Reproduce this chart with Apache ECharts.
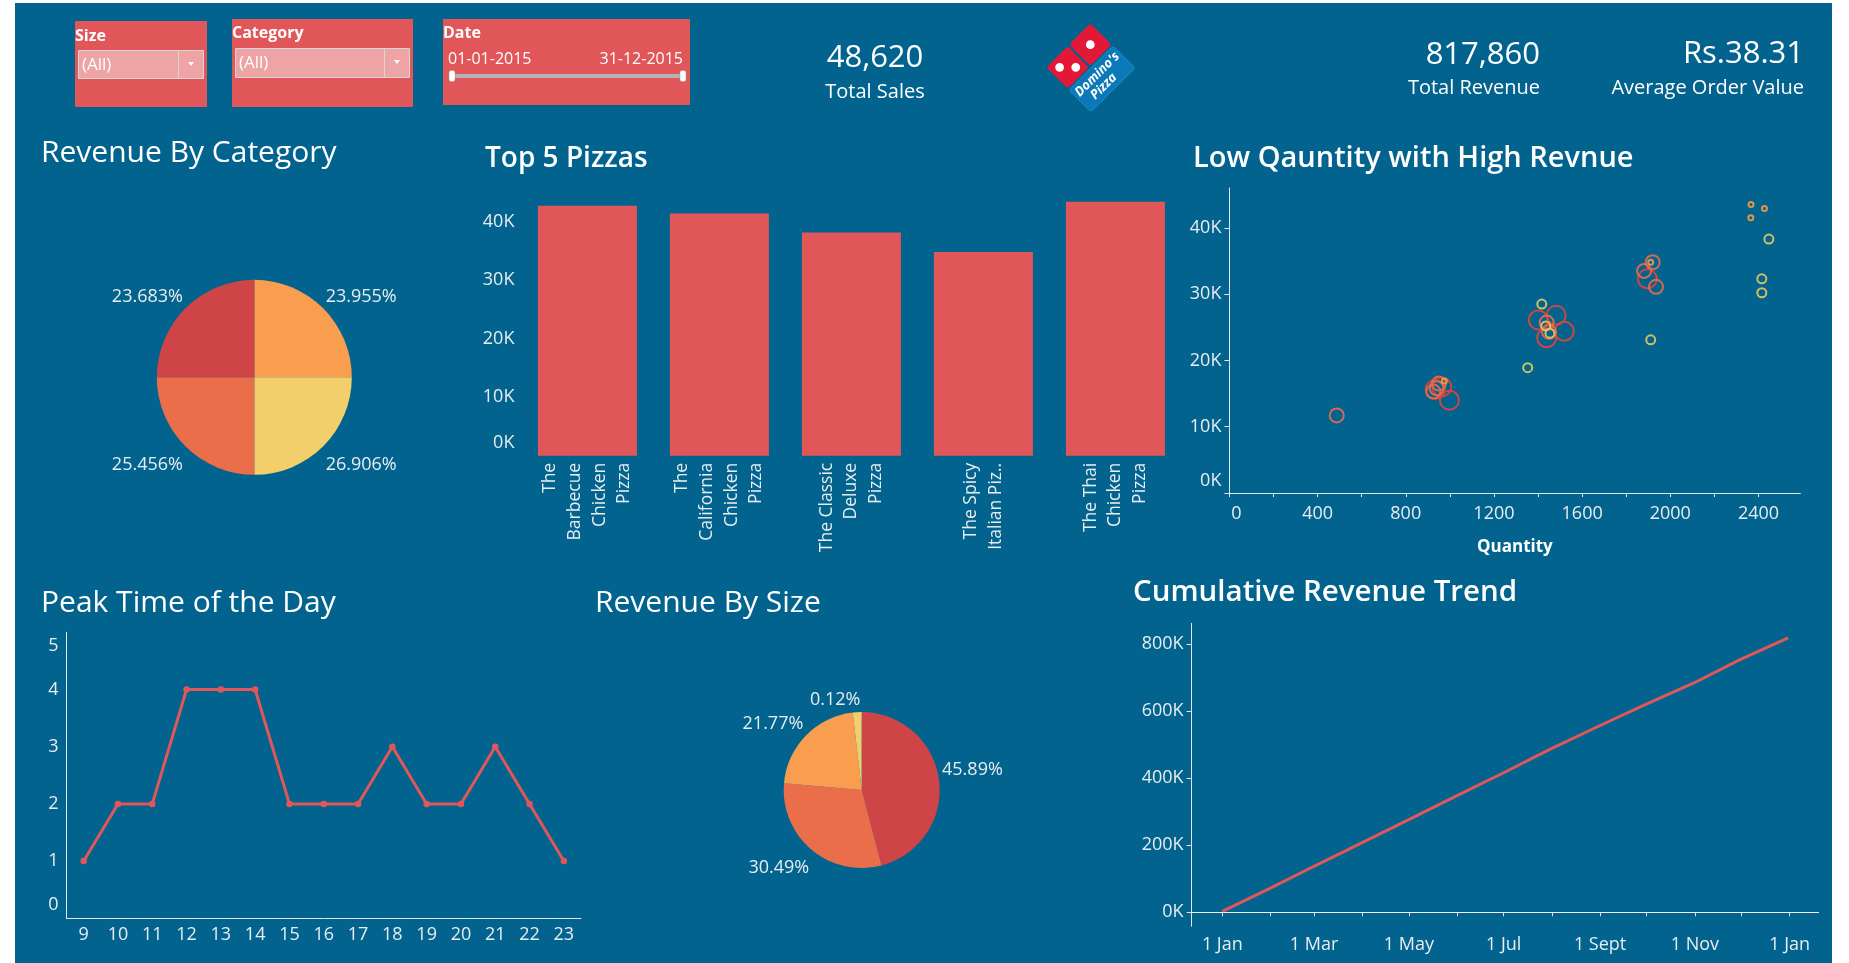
<!DOCTYPE html>
<html>
<head>
<meta charset="utf-8">
<script src="https://cdn.jsdelivr.net/npm/echarts@6/dist/echarts.min.js"></script>
<style>
html,body{margin:0;padding:0;background:#ffffff;}
#c{width:1849px;height:963px;}
</style>
</head>
<body>
<div id="c"></div>
<script>
// ---------------- DATA ----------------
const kpiTotalSales = '48,620';
const kpiTotalRevenue = '817,860';
const kpiAvgOrder = 'Rs.38.31';

const categoryNames = ['Chicken', 'Classic', 'Supreme', 'Veggie'];
const categoryShare = [23.955, 26.906, 25.456, 23.683];      // label values (%)
const categorySliceShare = [25, 25, 25, 25];                  // slice angles as drawn (equal quarters)

const pizzaNames = ['The Barbecue Chicken Pizza', 'The California Chicken Pizza', 'The Classic Deluxe Pizza', 'The Spicy Italian Pizza', 'The Thai Chicken Pizza'];
const pizzaTickLabels = ['The\nBarbecue\nChicken\nPizza', 'The\nCalifornia\nChicken\nPizza', 'The Classic\nDeluxe\nPizza', 'The Spicy\nItalian Piz..', 'The Thai\nChicken\nPizza'];
const pizzaRevenue = [42768, 41410, 38180, 34831, 43434];

const scatterQty     = [933, 998, 963, 940, 925, 950, 975, 487, 1353, 1417, 1401, 1482, 1439, 1435, 1519, 1439, 1450, 1454, 1920, 1911, 1881, 1896, 1935, 1911, 2366, 2427, 2365, 2447, 2415, 2415];
const scatterRevenue = [15600, 14000, 16000, 15800, 15300, 16500, 16900, 11700, 18900, 28500, 26100, 26800, 25700, 25200, 24400, 23400, 24300, 24100, 34800, 34800, 33500, 32300, 31100, 23100, 43500, 42900, 41500, 38300, 32300, 30200];
const scatterGroup   = ['A','A','A','B','B','B','D','B','C','C','A','A','B','C','A','A','B','C','B','D','B','A','B','C','D','D','D','C','C','C'];

const hours = ['9','10','11','12','13','14','15','16','17','18','19','20','21','22','23'];
const hourOrders = [1, 2, 2, 4, 4, 4, 2, 2, 2, 3, 2, 2, 3, 2, 1];

const sizeNames = ['L', 'M', 'S', 'XL', 'XXL'];
const sizeShare = [45.89, 30.49, 21.77, 1.72, 0.12];

const revDates = ['2015-01-01','2015-01-31','2015-02-28','2015-03-31','2015-04-30','2015-05-31','2015-06-30','2015-07-31','2015-08-31','2015-09-30','2015-10-31','2015-11-30','2015-12-31'];
const cumRevenue = [2714, 69793, 134953, 205350, 274087, 345490, 413720, 486278, 554556, 618736, 682764, 753159, 817860];

const monthTicks = ['2015-01-01','2015-02-01','2015-03-01','2015-04-01','2015-05-01','2015-06-01','2015-07-01','2015-08-01','2015-09-01','2015-10-01','2015-11-01','2015-12-01','2016-01-01'];
const monthLabels = ['2015-01-01','2015-03-01','2015-05-01','2015-07-01','2015-09-01','2015-11-01','2016-01-01'];
const monthNames = ['Jan','Feb','Mar','Apr','May','Jun','Jul','Aug','Sept','Oct','Nov','Dec'];

// ---------------- STYLE ----------------
const FONT = '"Open Sans"';
const BG = '#02638f';
const LBL = '#e8edf0';
const AX = '#e6e6e6';
const RED = '#e15759';
const catColors = ['#f99d4f', '#f3cf6b', '#eb6e4a', '#cf4446'];
const sizeColors = ['#cf4446', '#eb6e4a', '#f99d4f', '#f3cf6b', '#f7e39a'];
const groupStyle = {
  A: {color: '#e2423b', size: 19},
  B: {color: '#e86c4b', size: 14},
  C: {color: '#e5c962', size: 9},
  D: {color: '#f39a46', size: 5}
};
const DAY = 86400000;
const FS = 18;

const chart = echarts.init(document.getElementById('c'));

function pieLabelLayout(cy) {
  return function (p) {
    const r = p.labelRect;
    const mid = r.y + r.height / 2;
    return {dy: mid < cy ? -r.height / 2 - 1 : r.height / 2 + 8};
  };
}

const order = scatterQty.map((_, i) => i).sort((a, b) => groupStyle[scatterGroup[b]].size - groupStyle[scatterGroup[a]].size);
const scatterData = order.map(i => ({
  value: [scatterQty[i], scatterRevenue[i]],
  symbolSize: groupStyle[scatterGroup[i]].size,
  itemStyle: {color: 'rgba(0,0,0,0)', borderColor: groupStyle[scatterGroup[i]].color, borderWidth: 2, opacity: 0.9}
}));

const labelStyle = {color: LBL, fontSize: FS, fontFamily: FONT};
const richBase = {color: LBL, fontSize: FS, fontFamily: FONT};

function T(x, y, text, font, align) {
  return {type: 'text', x: x, y: y, z: 50, silent: true,
    style: {text: text, font: font, fill: '#ffffff', align: align || 'left', verticalAlign: 'middle'}};
}

const graphics = [
  // filters
  {type: 'rect', shape: {x: 75, y: 21, width: 132, height: 86}, style: {fill: RED}},
  T(75, 36, 'Size', 'bold 16px ' + FONT),
  {type: 'rect', shape: {x: 78.5, y: 50.5, width: 125, height: 28}, style: {fill: '#eea4a5', stroke: '#d6d6d6', lineWidth: 1}},
  {type: 'line', shape: {x1: 178.5, y1: 51, x2: 178.5, y2: 78}, style: {stroke: '#d6d6d6', lineWidth: 1}},
  T(82, 65, '(All)', '17px ' + FONT),
  {type: 'polygon', shape: {points: [[188, 62], [194, 62], [191, 66]]}, style: {fill: '#ffffff'}},

  {type: 'rect', shape: {x: 232, y: 19, width: 181, height: 88}, style: {fill: RED}},
  T(232, 33, 'Category', 'bold 16px ' + FONT),
  {type: 'rect', shape: {x: 235.5, y: 48.5, width: 174, height: 29}, style: {fill: '#eea4a5', stroke: '#d6d6d6', lineWidth: 1}},
  {type: 'line', shape: {x1: 384.5, y1: 49, x2: 384.5, y2: 77}, style: {stroke: '#d6d6d6', lineWidth: 1}},
  T(239, 63, '(All)', '17px ' + FONT),
  {type: 'polygon', shape: {points: [[394, 60], [400, 60], [397, 64]]}, style: {fill: '#ffffff'}},

  {type: 'rect', shape: {x: 443, y: 19, width: 247, height: 86}, style: {fill: RED}},
  T(443, 33, 'Date', 'bold 16px ' + FONT),
  T(448, 59, '01-01-2015', '16px ' + FONT),
  T(683, 59, '31-12-2015', '16px ' + FONT, 'right'),
  {type: 'rect', shape: {x: 452, y: 74, width: 231, height: 4}, style: {fill: '#b3b3b3'}},
  {type: 'rect', shape: {x: 449, y: 70.5, width: 6, height: 11, r: 2}, style: {fill: '#ffffff', stroke: '#9a9a9a', lineWidth: 0.5}},
  {type: 'rect', shape: {x: 680, y: 70.5, width: 6, height: 11, r: 2}, style: {fill: '#ffffff', stroke: '#9a9a9a', lineWidth: 0.5}},

  // KPIs
  T(875, 58, kpiTotalSales, '31px ' + FONT, 'center'),
  T(875, 92, 'Total Sales', '20px ' + FONT, 'center'),
  T(1540, 55, kpiTotalRevenue, '31px ' + FONT, 'right'),
  T(1540, 88, 'Total Revenue', '20px ' + FONT, 'right'),
  T(1804, 54, kpiAvgOrder, '31px ' + FONT, 'right'),
  T(1804, 88, 'Average Order Value', '20px ' + FONT, 'right'),

  // logo
  {type: 'group', x: 1079, y: 56, rotation: Math.PI / 4, children: [
    {type: 'rect', shape: {x: -31, y: -15, width: 30, height: 30, r: 3}, style: {fill: '#e31837'}},
    {type: 'rect', shape: {x: 1, y: -15, width: 30, height: 30, r: 3}, style: {fill: '#e31837'}},
    {type: 'circle', shape: {cx: -16 - 5.7, cy: -5.7, r: 4.4}, style: {fill: '#ffffff'}},
    {type: 'circle', shape: {cx: -16 + 5.7, cy: 5.7, r: 4.4}, style: {fill: '#ffffff'}},
    {type: 'circle', shape: {cx: 16, cy: 0, r: 4.4}, style: {fill: '#ffffff'}},
    {type: 'rect', shape: {x: -31, y: 17, width: 62, height: 31, r: 3}, style: {fill: '#0b79b8', stroke: '#1a86c4', lineWidth: 1}},
    {type: 'text', x: 0, y: 26, style: {text: "Domino's", font: 'italic bold 13px ' + FONT, fill: '#ffffff', align: 'center', verticalAlign: 'middle'}},
    {type: 'text', x: -4, y: 39, style: {text: 'Pizza', font: 'italic bold 13px ' + FONT, fill: '#ffffff', align: 'center', verticalAlign: 'middle'}}
  ]},

  // titles
  T(41, 153, 'Revenue By Category', '30px ' + FONT),
  T(485, 159, 'Top 5 Pizzas', '600 28px ' + FONT),
  T(1193, 159, 'Low Qauntity with High Revnue', '600 29px ' + FONT),
  T(41, 603, 'Peak Time of the Day', '30px ' + FONT),
  T(595, 603, 'Revenue By Size', '30px ' + FONT),
  T(1133, 593, 'Cumulative Revenue Trend', '600 29.5px ' + FONT),

  // white page margins
  {type: 'rect', z: 100, shape: {x: 0, y: 0, width: 15, height: 963}, style: {fill: '#ffffff'}},
  {type: 'rect', z: 100, shape: {x: 0, y: 0, width: 1849, height: 3}, style: {fill: '#ffffff'}},
  {type: 'rect', z: 100, shape: {x: 1832, y: 0, width: 17, height: 963}, style: {fill: '#ffffff'}}
];

const dateFmt = v => { const d = new Date(v); return d.getUTCDate() + ' ' + monthNames[d.getUTCMonth()]; };

const option = {
  animation: false,
  backgroundColor: BG,
  textStyle: {fontFamily: FONT},
  graphic: {elements: graphics},
  grid: [
    {left: 521.4, top: 192.6, width: 660, height: 263.2},     // top 5
    {left: 1229.4, top: 188, width: 571, height: 305},        // scatter
    {left: 66.5, top: 632.3, width: 514.5, height: 286},      // peak
    {left: 1191.6, top: 623.3, width: 626.9, height: 303}     // cumulative
  ],
  xAxis: [
    {gridIndex: 0, type: 'category', data: pizzaNames,
      axisLine: {show: false}, axisTick: {show: false},
      axisLabel: Object.assign({}, labelStyle, {fontSize: 17.5, interval: 0, rotate: 90, lineHeight: 24.6, margin: 7,
        formatter: (v, i) => pizzaTickLabels[i]})},
    {gridIndex: 1, type: 'value', min: 0, max: 2590, interval: 200,
      axisLine: {show: true, lineStyle: {color: AX}},
      axisTick: {show: true, length: 4, lineStyle: {color: AX}},
      splitLine: {show: false},
      axisLabel: Object.assign({}, labelStyle, {margin: 12, showMaxLabel: false,
        formatter: v => (v % 400 === 0 && v <= 2400) ? (v === 0 ? '{z|0}' : String(v)) : '',
        rich: {z: Object.assign({padding: [0, 0, 0, 14]}, richBase)}}),
      name: 'Quantity', nameLocation: 'middle', nameGap: 46,
      nameTextStyle: {color: '#ffffff', fontSize: 17, fontWeight: 'bold', fontFamily: FONT}},
    {gridIndex: 2, type: 'category', data: hours, boundaryGap: true,
      axisLine: {show: true, lineStyle: {color: AX}}, axisTick: {show: false},
      axisLabel: Object.assign({}, labelStyle, {margin: 8})},
    {gridIndex: 3, type: 'value',
      min: Date.parse('2015-01-01') - 19.75 * DAY, max: Date.parse('2016-01-01') + 18.5 * DAY,
      axisLine: {show: true, lineStyle: {color: AX}},
      axisTick: {show: true, length: 4, lineStyle: {color: AX}, customValues: monthTicks.map(d => Date.parse(d))},
      splitLine: {show: false},
      axisLabel: Object.assign({}, labelStyle, {margin: 10, customValues: monthLabels.map(d => Date.parse(d)),
        formatter: dateFmt})}
  ],
  yAxis: [
    {gridIndex: 0, type: 'value', min: 0, max: 45000, interval: 10000,
      axisLine: {show: false}, axisTick: {show: false}, splitLine: {show: false},
      axisLabel: Object.assign({}, labelStyle, {margin: 7, showMaxLabel: false,
        formatter: v => v === 0 ? '{lo|0K}' : (v / 1000) + 'K',
        rich: {lo: Object.assign({padding: [0, 0, 26, 0]}, richBase)}})},
    {gridIndex: 1, type: 'value', min: 0, max: 46000, interval: 10000,
      axisLine: {show: true, lineStyle: {color: AX}},
      axisTick: {show: true, length: 5, lineStyle: {color: AX}, customValues: [0, 10000, 20000, 30000, 40000]},
      splitLine: {show: false},
      axisLabel: Object.assign({}, labelStyle, {margin: 8, showMaxLabel: false,
        formatter: v => v === 0 ? '{lo|0K}' : (v / 1000) + 'K',
        rich: {lo: Object.assign({padding: [0, 0, 24, 0]}, richBase)}})},
    {gridIndex: 2, type: 'value', min: 0, max: 5, interval: 1,
      axisLine: {show: true, lineStyle: {color: AX}}, axisTick: {show: false}, splitLine: {show: false},
      axisLabel: Object.assign({}, labelStyle, {margin: 8,
        formatter: v => v === 0 ? '{lo|0}' : (v === 5 ? '{hi|5}' : String(v)),
        rich: {lo: Object.assign({padding: [0, 0, 26, 0]}, richBase),
               hi: Object.assign({padding: [28, 0, 0, 0]}, richBase)}})},
    {gridIndex: 3, type: 'value', min: -41700, max: 861400,
      axisLine: {show: true, lineStyle: {color: AX}},
      axisTick: {show: true, length: 5, lineStyle: {color: AX}, customValues: [0, 200000, 400000, 600000, 800000]},
      splitLine: {show: false},
      axisLabel: Object.assign({}, labelStyle, {margin: 8, customValues: [0, 200000, 400000, 600000, 800000],
        formatter: v => (v / 1000) + 'K'})}
  ],
  series: [
    {type: 'pie', center: [254.3, 377.3], radius: 97.5, startAngle: 90, clockwise: true,
      avoidLabelOverlap: false, silent: true,
      data: categoryNames.map((n, i) => ({name: n, value: categorySliceShare[i], itemStyle: {color: catColors[i]}})),
      label: Object.assign({}, labelStyle, {show: true, position: 'outside', distanceToLabelLine: 1,
        formatter: p => categoryShare[p.dataIndex] + '%'}),
      labelLine: {show: false, length: 2, length2: 0},
      labelLayout: pieLabelLayout(377.3)},
    {type: 'bar', xAxisIndex: 0, yAxisIndex: 0, data: pizzaRevenue, barWidth: '75%',
      itemStyle: {color: RED}, silent: true},
    {type: 'scatter', xAxisIndex: 1, yAxisIndex: 1, data: scatterData, symbol: 'circle', silent: true},
    {type: 'line', xAxisIndex: 2, yAxisIndex: 2, data: hourOrders, symbol: 'circle', symbolSize: 6.5,
      showSymbol: true, lineStyle: {color: RED, width: 3}, itemStyle: {color: RED}, silent: true},
    {type: 'pie', center: [861.7, 790], radius: 78, startAngle: 90, clockwise: true,
      avoidLabelOverlap: false, silent: true,
      data: sizeNames.map((n, i) => ({name: n, value: sizeShare[i], itemStyle: {color: sizeColors[i]},
        label: {show: n !== 'XL'}})),
      label: Object.assign({}, labelStyle, {show: true, position: 'outside', formatter: '{c}%', distanceToLabelLine: 1}),
      labelLine: {show: false, length: 2, length2: 0},
      labelLayout: pieLabelLayout(790)},
    {type: 'line', xAxisIndex: 3, yAxisIndex: 3, data: revDates.map((d, i) => [Date.parse(d), cumRevenue[i]]),
      showSymbol: false, lineStyle: {color: RED, width: 3}, silent: true,
      markLine: {silent: true, symbol: 'none', label: {show: false},
        lineStyle: {type: 'dotted', color: '#ffffff', width: 1}, data: [{yAxis: 0}]}}
  ]
};
chart.setOption(option);
</script>
</body>
</html>
